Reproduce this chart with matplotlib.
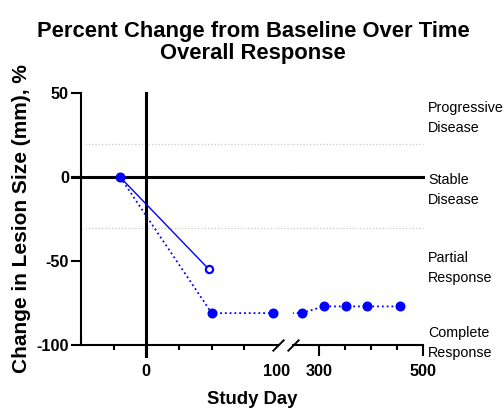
import matplotlib
matplotlib.use('Agg')
import matplotlib.pyplot as plt
from matplotlib.ticker import FixedLocator

plt.rcParams['font.family'] = ['Liberation Sans', 'DejaVu Sans']
plt.rcParams['axes.unicode_minus'] = False

# Data
solid_day = [-20, 48]
solid_pct = [0, -55]
dotted_day = [-20, 50, 97, 267, 310, 352, 393, 457]
dotted_pct = [0, -81, -81, -81, -77, -77, -77, -77]

y_ticks = [50, 0, -50, -100]
x1_major = [0, 100]
x1_minor = [-25, 25, 50, 75]
x2_major = [300, 500]
x2_minor = [350, 400, 450]
grid_levels = [20, -30]
zone_labels = [('Progressive', 'Disease'), ('Stable', 'Disease'),
               ('Partial', 'Response'), ('Complete', 'Response')]
zone_baselines = [112.3, 184, 261.7, 337.3]  # pixel rows of the first line

W, H = 504, 409
blue = '#0000FF'

fig = plt.figure(figsize=(W / 100, H / 100), dpi=100)

ax1 = fig.add_axes([81 / W, 1 - 345 / H, 196.7 / W, 251.7 / H])
ax2 = fig.add_axes([292.7 / W, 1 - 345 / H, 130 / W, 251.7 / H], sharey=ax1)

ax1.set_xlim(-50, 100.5)
ax2.set_xlim(250, 500)
ax1.set_ylim(-100, 50)

for ax in (ax1, ax2):
    ax.set_facecolor('none')
    for s in ('top', 'right'):
        ax.spines[s].set_visible(False)
    ax.spines['bottom'].set_linewidth(1.5)
    ax.plot(dotted_day, dotted_pct, ':', color=blue, lw=1.3, zorder=3)
    ax.plot(solid_day, solid_pct, '-', color=blue, lw=1.0, zorder=3)
    ax.plot(dotted_day, dotted_pct, 'o', color=blue, ms=6.2, zorder=4)
    ax.plot(solid_day[1:], solid_pct[1:], 'o', mfc='white', mec=blue,
            mew=1.6, ms=5.2, zorder=4)
    ax.tick_params(axis='x', which='major', length=7.9, width=1.5, pad=6,
                   labelsize=11.7)
    ax.tick_params(axis='x', which='minor', length=3.6, width=1.5)

ax2.spines['left'].set_visible(False)
ax2.tick_params(axis='y', left=False, labelleft=False)

ax1.spines['left'].set_linewidth(1.5)
ax1.set_yticks(y_ticks)
ax1.tick_params(axis='y', length=7.2, width=1.5, pad=1.5, labelsize=11.7)
for lab in ax1.get_yticklabels():
    lab.set_fontweight('bold')

ax1.set_xticks(x1_major)
ax1.xaxis.set_minor_locator(FixedLocator(x1_minor))
ax2.set_xticks(x2_major)
ax2.xaxis.set_minor_locator(FixedLocator(x2_minor))
for ax in (ax1, ax2):
    for lab in ax.get_xticklabels():
        lab.set_fontweight('bold')
ax1.xaxis.get_major_ticks()[1].tick1line.set_visible(False)

# reference lines
ax1.plot([0, 0], [50, -106.6], color='black', lw=2.2, clip_on=False, zorder=2)
ax1.plot([-57.1, 112], [0, 0], color='black', lw=2.2, clip_on=False, zorder=2)
ax2.plot([250, 500], [0, 0], color='black', lw=2.2, clip_on=False, zorder=2)
for g in grid_levels:
    ax1.plot([-47, 112], [g, g], ':', color='#c8c8c8', lw=0.9,
             clip_on=False, zorder=1)
    ax2.plot([250, 500], [g, g], ':', color='#c8c8c8', lw=0.9,
             clip_on=False, zorder=1)

# axis break marks
brk = dict(marker=[(-1, -1), (1, 1)], markersize=8.4, linestyle='none',
           color='black', mec='black', mew=1.4, clip_on=False)
ax1.plot([1], [0], transform=ax1.transAxes, **brk)
ax2.plot([0], [0], transform=ax2.transAxes, **brk)

# zone annotations on the right
for (l1, l2), b in zip(zone_labels, zone_baselines):
    fig.text(428.3 / W, 1 - b / H, l1, fontsize=10.3, va='baseline', ha='left')
    fig.text(428.3 / W, 1 - (b + 20) / H, l2, fontsize=10.3, va='baseline', ha='left')

fig.text(253 / W, 1 - 36.7 / H, 'Percent Change from Baseline Over Time',
         fontsize=15.8, fontweight='bold', ha='center', va='baseline')
fig.text(253 / W, 1 - 59.5 / H, 'Overall Response',
         fontsize=15.8, fontweight='bold', ha='center', va='baseline')
fig.text(21.7 / W, 1 - 218.5 / H, 'Change in Lesion Size (mm), %',
         fontsize=15, fontweight='bold', rotation=90, ha='center', va='center')
fig.text(252 / W, 1 - 399.5 / H, 'Study Day', fontsize=13.3,
         fontweight='bold', ha='center', va='center')

fig.savefig('out.png', dpi=100)
